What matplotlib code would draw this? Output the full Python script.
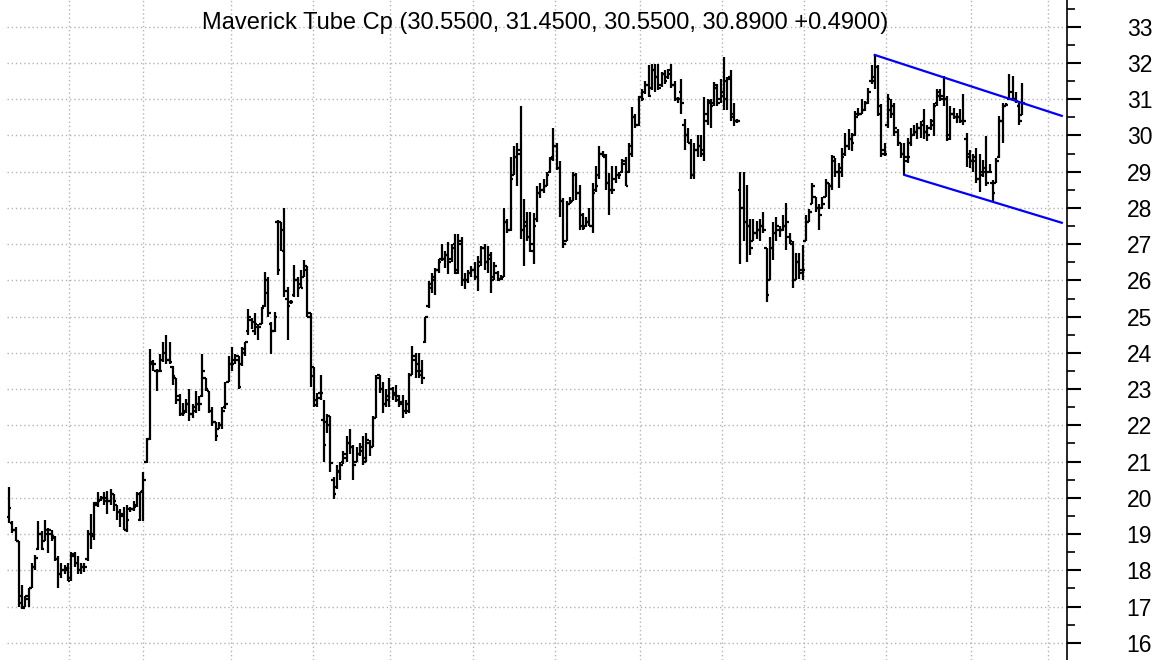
from matplotlib import pyplot as plt, ticker
import numpy as np

plt.rcParams["font.family"] = ["Liberation Sans", "DejaVu Sans"]

# daily OHLC, oldest first
opens = [19.46, 19.30, 19.10, 18.80, 17.30, 17.00, 17.20, 17.50, 18.10, 18.60,
         19.00, 18.80, 19.00, 19.00, 18.90, 18.30, 17.90, 18.00, 18.00, 17.80,
         18.40, 18.20, 18.00, 18.10, 18.30, 19.00, 19.00, 19.80, 19.95, 20.00,
         19.90, 19.90, 20.10, 19.80, 19.60, 19.50, 19.10, 19.70, 19.70, 19.80,
         19.40, 20.20, 21.00,
         21.63, 23.70, 23.50, 23.50, 23.80, 24.00, 23.80, 23.60, 23.30, 22.80,
         22.30, 22.40, 22.60, 22.30, 22.40, 22.60, 22.80, 23.30, 22.95, 22.40,
         22.10, 21.90, 22.00, 22.50, 23.20, 23.70, 23.80, 23.90, 23.70, 24.00,
         24.60, 24.90, 24.60, 24.70, 24.80, 25.30, 26.00, 24.80, 24.60, 27.60,
         27.60, 26.80, 25.50, 25.40, 25.60, 26.00, 25.90, 26.10, 26.40, 25.10,
         23.60, 22.70, 22.90,
         22.15, 22.10, 22.25, 20.50, 20.30, 20.70, 21.00, 21.10, 21.50, 21.40,
         21.00, 21.20, 21.40, 21.10, 21.50, 21.40, 22.20, 23.40, 23.00, 22.60,
         22.70, 23.00, 22.90, 22.80, 22.60, 22.40, 22.40, 23.40, 23.90, 23.70,
         23.50, 24.30, 25.30, 25.80, 26.00, 26.30, 26.60, 26.60, 26.70, 26.60,
         27.00, 26.30, 27.00, 26.00, 26.00, 26.20, 26.30, 26.10, 26.50, 26.90,
         26.50, 26.70, 26.10, 26.20, 26.05, 26.10, 27.60, 27.40, 28.90, 29.40,
         29.60, 27.40, 27.60, 27.20,
         26.80, 27.70, 28.40, 28.50, 28.60, 29.00, 29.40, 29.70, 29.10, 28.20,
         27.10, 28.10, 28.20, 28.90, 28.40, 27.80, 27.50, 27.60, 27.50, 28.50,
         28.90, 29.50, 29.40, 28.70, 28.50, 28.80, 28.90, 29.00, 29.30, 29.00,
         29.50, 30.50, 30.30, 31.05, 31.20, 31.40, 31.30, 31.80, 31.60, 31.40,
         31.70, 31.60, 31.80, 31.40, 31.00, 31.20, 30.30, 30.00, 29.80, 28.90,
         29.60, 29.70, 29.50, 30.40, 30.90, 30.90, 31.30, 31.00, 31.20, 31.00,
         31.60, 30.60, 30.40,
         28.50, 28.00, 27.60, 27.50, 27.10, 27.30, 27.40, 27.50, 26.90, 26.00,
         26.90, 27.30, 27.40, 27.40, 27.50, 27.20, 27.00, 26.00, 26.50, 26.20,
         27.10, 27.60, 28.10, 28.30, 28.00, 28.00, 28.30, 28.70, 28.60, 29.30,
         29.00, 29.00, 29.50, 29.70, 29.90, 30.00, 30.60, 30.60, 30.70, 30.90,
         31.50, 31.60, 31.90, 30.80, 29.60, 30.30, 30.70, 30.80, 30.10, 29.80,
         29.50, 29.30, 29.80, 30.00, 30.10, 30.20, 30.40, 30.10, 30.20, 30.30,
         30.90, 31.10, 31.00, 31.00, 30.00, 30.60, 30.50, 30.50, 30.40, 29.90,
         29.40, 29.30, 29.40, 28.80, 29.00, 29.10, 29.00, 28.70, 28.70, 29.40,
         30.40, 30.80, 31.00, 31.20, 31.00, 30.80, 30.55]

highs = [20.30, 19.36, 19.20, 18.80, 17.60, 17.30, 17.50, 18.20, 18.43, 19.36,
         19.08, 19.40, 19.17, 19.10, 18.95, 18.40, 18.20, 18.15, 18.20, 18.50,
         18.50, 18.40, 18.20, 18.20, 19.10, 19.55, 19.88, 20.16, 20.06, 20.16,
         20.20, 20.25, 20.10, 19.80, 19.70, 19.75, 19.80, 19.75, 19.90, 20.15,
         20.15, 20.70, 21.66,
         24.11, 23.80, 23.55, 23.97, 24.30, 24.50, 24.30, 23.65, 23.30, 22.86,
         22.63, 22.72, 23.00, 22.60, 22.95, 22.80, 23.97, 23.30, 22.95, 22.50,
         22.10, 22.10, 22.50, 23.20, 23.90, 24.15, 23.97, 23.90, 24.15, 24.30,
         25.20, 24.95, 25.10, 24.80, 25.27, 26.24, 26.10, 24.85, 25.13, 27.67,
         27.62, 28.00, 25.83, 25.45, 26.42, 26.10, 26.30, 26.57, 26.40, 25.10,
         23.62, 22.90, 23.40,
         22.70, 22.30, 22.25, 20.57, 20.90, 21.00, 21.30, 21.70, 21.90, 21.45,
         21.40, 21.50, 21.70, 21.80, 21.60, 22.25, 23.40, 23.40, 23.20, 23.00,
         23.30, 23.07, 23.10, 22.85, 22.85, 22.70, 23.45, 24.20, 24.00, 24.00,
         23.80, 25.00, 25.98, 26.20, 26.35, 26.60, 27.00, 26.80, 27.05, 27.00,
         27.27, 27.27, 27.20, 26.20, 26.30, 26.40, 26.50, 26.67, 26.95, 27.00,
         26.95, 26.77, 26.50, 26.25, 26.15, 28.00, 27.70, 29.40, 29.72, 29.80,
         30.80, 28.24, 27.90, 27.88,
         27.85, 28.60, 28.70, 28.80, 29.00, 29.40, 30.20, 29.80, 29.30, 28.27,
         28.20, 28.30, 29.00, 28.97, 28.64, 27.85, 27.75, 28.00, 28.70, 29.15,
         29.70, 29.57, 29.50, 28.97, 29.15, 29.15, 29.00, 29.35, 29.40, 29.80,
         30.78, 30.60, 31.10, 31.28, 31.50, 31.93, 31.98, 31.98, 31.98, 31.75,
         31.80, 31.84, 31.98, 31.50, 31.05, 31.56, 30.45, 30.20, 29.90, 29.80,
         30.00, 30.00, 31.05, 31.00, 31.00, 31.47, 31.43, 31.56, 32.16, 31.60,
         31.80, 30.90, 30.45,
         29.00, 29.00, 28.64, 27.70, 27.70, 27.65, 27.70, 27.90, 26.90, 27.20,
         27.60, 27.75, 27.50, 27.80, 28.13, 27.30, 27.10, 26.75, 26.75, 26.97,
         27.80, 27.98, 28.70, 28.30, 28.10, 28.30, 28.80, 28.70, 29.47, 29.38,
         29.24, 29.65, 30.07, 30.17, 30.07, 30.67, 30.77, 31.00, 30.95, 31.32,
         31.93, 32.25, 31.93, 30.86, 29.80, 31.14, 31.00, 30.90, 30.17, 29.80,
         29.80, 29.93, 30.20, 30.30, 30.35, 30.40, 30.72, 30.30, 30.44, 30.90,
         31.28, 31.28, 31.65, 31.09, 30.80, 30.77, 30.63, 30.72, 31.14, 30.07,
         29.60, 29.50, 29.65, 29.50, 29.33, 29.98, 29.20, 28.77, 29.38, 30.53,
         30.90, 30.90, 31.70, 31.65, 31.20, 30.90, 31.45]

lows = [19.30, 19.04, 18.80, 16.98, 16.94, 16.98, 16.98, 17.50, 18.00, 18.57,
        18.57, 18.80, 18.47, 18.80, 18.25, 17.50, 17.80, 17.90, 17.70, 17.70,
        18.10, 17.90, 17.90, 17.95, 18.25, 18.60, 18.85, 19.74, 19.90, 19.80,
        19.55, 19.80, 19.65, 19.40, 19.20, 19.10, 19.05, 19.60, 19.65, 19.75,
        19.35, 19.35, 20.96,
        21.60, 23.50, 22.95, 23.50, 23.74, 23.70, 23.70, 23.10, 22.58, 22.26,
        22.26, 22.35, 22.12, 22.20, 22.35, 22.40, 22.77, 22.95, 22.35, 21.98,
        21.56, 21.90, 21.90, 22.45, 23.20, 23.50, 23.70, 23.00, 23.65, 23.90,
        24.50, 24.67, 24.50, 24.35, 24.80, 25.27, 25.00, 23.97, 24.57, 26.14,
        26.80, 25.55, 24.35, 25.35, 25.55, 25.55, 25.80, 26.10, 25.00, 23.07,
        22.50, 22.50, 22.70,
        21.00, 21.80, 20.70, 19.97, 20.25, 20.50, 20.94, 21.00, 21.20, 20.50,
        21.00, 21.15, 20.90, 21.00, 21.15, 21.40, 22.20, 22.90, 22.33, 22.50,
        22.50, 22.70, 22.65, 22.50, 22.20, 22.30, 22.33, 23.40, 23.30, 23.30,
        23.15, 24.27, 25.24, 25.65, 25.60, 26.20, 26.53, 26.35, 26.17, 26.50,
        26.17, 26.17, 25.85, 25.75, 25.94, 26.10, 26.00, 25.70, 26.40, 26.30,
        26.20, 25.66, 26.00, 25.98, 26.00, 26.10, 27.30, 27.37, 28.90, 28.60,
        27.13, 26.40, 27.10, 26.77,
        26.46, 27.60, 28.27, 28.40, 28.60, 28.97, 29.30, 29.05, 27.76, 26.90,
        27.10, 28.10, 28.20, 28.22, 27.40, 27.40, 27.48, 27.50, 27.30, 28.45,
        28.80, 29.40, 28.50, 27.80, 28.37, 28.70, 28.80, 28.97, 28.60, 28.97,
        29.40, 30.20, 30.27, 30.96, 31.15, 31.05, 31.24, 31.20, 31.24, 31.33,
        31.42, 31.56, 31.30, 30.96, 30.90, 30.60, 29.60, 29.80, 28.80, 28.80,
        29.40, 29.40, 29.30, 30.30, 30.20, 30.80, 30.80, 30.90, 30.70, 30.70,
        30.40, 30.27, 30.35,
        26.46, 27.10, 26.50, 26.70, 27.10, 27.15, 27.10, 27.30, 25.40, 26.00,
        26.55, 27.10, 27.20, 27.35, 26.83, 27.00, 25.80, 26.00, 26.05, 26.00,
        27.10, 27.60, 28.10, 27.90, 27.40, 27.98, 28.30, 27.98, 28.50, 28.86,
        28.54, 28.86, 29.42, 29.60, 29.56, 29.98, 30.53, 30.58, 30.67, 30.86,
        31.41, 31.28, 30.53, 29.40, 29.42, 30.20, 30.49, 29.98, 29.70, 29.38,
        28.90, 29.24, 29.70, 29.98, 29.90, 29.93, 29.90, 29.84, 30.16, 29.98,
        30.80, 30.95, 30.80, 29.84, 29.88, 30.44, 30.35, 30.35, 30.30, 29.14,
        29.10, 29.00, 28.68, 28.45, 28.86, 28.60, 28.96, 28.17, 28.68, 29.38,
        29.80, 30.80, 31.00, 30.95, 30.90, 30.30, 30.55]

closes = [19.72, 19.10, 18.80, 17.10, 16.95, 17.30, 17.50, 18.10, 18.35, 19.00,
          18.60, 19.10, 19.10, 18.95, 18.30, 17.90, 18.00, 18.05, 17.70, 18.45,
          18.20, 18.00, 18.10, 18.10, 19.00, 18.95, 19.85, 19.90, 20.00, 20.00,
          19.90, 20.10, 19.90, 19.60, 19.55, 19.10, 19.40, 19.70, 19.75, 20.10,
          20.15, 20.50, 21.63,
          23.74, 23.70, 23.50, 23.50, 24.00, 23.80, 23.74, 23.35, 22.70, 22.30,
          22.35, 22.60, 22.30, 22.50, 22.60, 22.60, 23.50, 23.00, 22.40, 22.10,
          21.70, 22.00, 22.40, 22.60, 23.70, 23.70, 23.80, 23.05, 24.10, 24.30,
          25.00, 24.85, 24.80, 24.70, 25.25, 25.65, 25.10, 24.60, 25.00, 26.30,
          27.38, 25.70, 25.30, 25.40, 26.00, 25.80, 25.80, 26.30, 25.00, 23.35,
          22.55, 22.75, 22.90,
          21.45, 22.00, 20.95, 20.10, 20.75, 20.90, 21.20, 21.50, 21.40, 20.90,
          21.20, 21.30, 21.00, 21.60, 21.40, 22.20, 23.30, 23.00, 22.60, 22.80,
          23.00, 22.85, 22.70, 22.65, 22.40, 22.60, 23.40, 23.80, 23.50, 23.40,
          23.30, 25.00, 25.90, 26.10, 26.30, 26.50, 26.60, 26.70, 26.50, 26.90,
          26.20, 27.10, 26.00, 26.00, 26.20, 26.30, 26.10, 26.40, 26.90, 26.50,
          26.60, 26.00, 26.40, 26.00, 26.05, 27.60, 27.40, 28.80, 29.40, 29.50,
          27.40, 27.50, 27.20, 27.00,
          27.50, 28.40, 28.50, 28.60, 28.90, 29.35, 29.70, 29.10, 28.20, 27.00,
          28.10, 28.15, 28.90, 28.40, 27.50, 27.45, 27.60, 27.50, 28.40, 28.60,
          29.50, 29.45, 28.70, 28.50, 28.50, 28.90, 28.90, 29.20, 28.60, 29.70,
          30.50, 30.30, 31.05, 31.00, 31.40, 31.10, 31.80, 31.60, 31.30, 31.70,
          31.50, 31.70, 31.40, 31.00, 31.00, 30.90, 30.00, 29.80, 28.90, 29.60,
          29.70, 29.60, 30.60, 30.95, 30.80, 31.40, 30.90, 31.10, 31.50, 31.55,
          30.50, 30.40, 30.40,
          28.00, 27.60, 27.50, 26.90, 27.30, 27.40, 27.50, 27.40, 25.60, 26.90,
          27.30, 27.50, 27.40, 27.50, 27.60, 27.10, 26.00, 26.50, 26.30, 26.30,
          27.60, 27.90, 28.60, 28.00, 27.80, 28.10, 28.70, 28.60, 29.40, 29.00,
          29.10, 29.40, 29.70, 29.90, 29.80, 30.50, 30.60, 30.70, 30.90, 31.20,
          31.50, 31.90, 30.60, 29.50, 29.50, 31.00, 30.60, 30.20, 29.80, 29.50,
          29.40, 29.40, 30.00, 30.10, 30.20, 30.30, 30.10, 30.00, 30.40, 30.80,
          31.20, 31.10, 31.00, 29.90, 30.60, 30.50, 30.50, 30.40, 30.40, 29.50,
          29.30, 29.30, 28.80, 28.90, 29.00, 28.70, 29.00, 28.40, 29.30, 30.40,
          30.80, 30.85, 31.00, 31.00, 30.95, 30.40, 30.89]

# month boundaries (in bars) for the vertical grid
month_lines = [18.3, 40.9, 67.7, 92.7, 116.2, 141.5, 166.5, 192.4, 217.4,
               242.4, 267.4, 293.3, 316.8]

# channel drawn on the last leg: (bar, price) end points
upper_line = [(264, 32.22), (321, 30.54)]
lower_line = [(273, 28.91), (321, 27.59)]

title = "Maverick Tube Cp (30.5500, 31.4500, 30.5500, 30.8900 +0.4900)"

fig = plt.figure(figsize=(11.68, 6.6), dpi=100)
ax = fig.add_axes([7 / 1168, 0, 1060 / 1168, 1])

idx = np.arange(len(closes))
w = 0.75
ax.vlines(idx, lows, highs, color="black", lw=1.6, zorder=3)
ax.hlines(opens, idx - w, idx, color="black", lw=1.6, zorder=3)
ax.hlines(closes, idx, idx + w, color="black", lw=1.6, zorder=3)

for pts in (upper_line, lower_line):
    xs, ys = zip(*pts)
    ax.plot(xs, ys, color="#0000ff", lw=1.6, zorder=4)

ax.set_xlim(-0.6, 322.6)
ax.set_ylim(15.525, 33.737)

ax.yaxis.tick_right()
ax.yaxis.set_major_locator(ticker.MultipleLocator(1))
ax.yaxis.set_minor_locator(ticker.MultipleLocator(0.5))
ax.yaxis.set_major_formatter(ticker.FormatStrFormatter("%d"))
ax.tick_params(axis="y", which="major", direction="out", length=10, width=1.5,
               pad=33, labelsize=16.5)
ax.tick_params(axis="y", which="minor", direction="out", length=5.5, width=1.2)
ax.set_xticks(month_lines)
ax.tick_params(axis="x", length=0, labelbottom=False)

for s in ("left", "top", "bottom"):
    ax.spines[s].set_visible(False)
ax.spines["right"].set_linewidth(1.2)

ax.grid(True, which="major", color="#b4b4b4", linestyle=(0, (1, 2)), lw=1)

fig.text(0.467, 1 - 23 / 660, title, ha="center", va="center", fontsize=17)

fig.savefig("out.png", dpi=100)
